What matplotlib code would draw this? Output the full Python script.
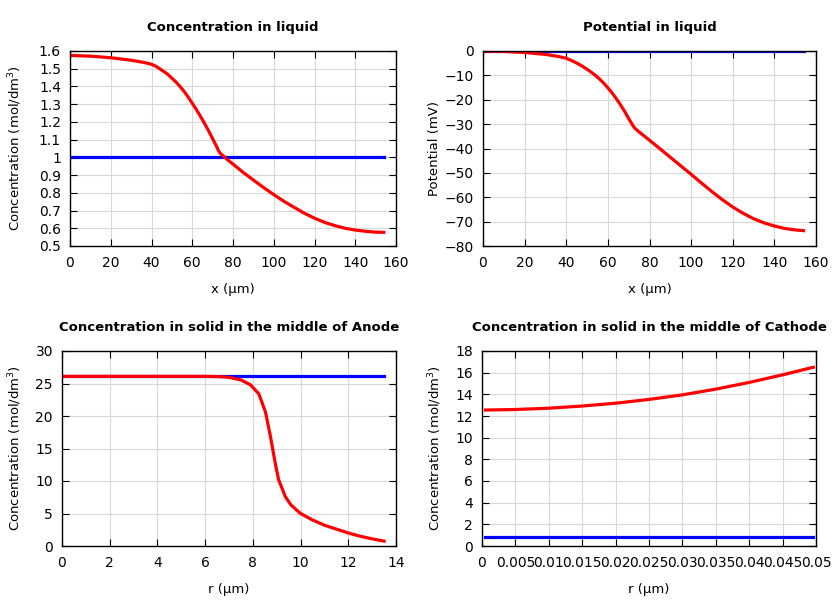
import numpy as np
import matplotlib.pyplot as plt
from matplotlib.ticker import FuncFormatter

# concentration in liquid
x_liq = [0, 10, 20, 30, 36, 38, 40, 42, 44, 46, 48, 50, 52, 54, 56, 58, 60, 62, 64, 66, 68, 70, 72, 73, 74, 76, 78, 80,
	85, 90, 95, 100, 105, 110, 115, 120, 125, 130, 135, 140, 145, 150, 154]
c_liq = [1.575, 1.571, 1.562, 1.548, 1.536, 1.531, 1.525, 1.515, 1.50, 1.485, 1.468, 1.447, 1.425, 1.40, 1.372, 1.34, 1.305, 1.27, 1.232, 1.192, 1.15, 1.105, 1.06, 1.035, 1.02, 1.0, 0.98, 0.962,
	0.915, 0.872, 0.83, 0.79, 0.752, 0.718, 0.685, 0.657, 0.633, 0.615, 0.60, 0.59, 0.583, 0.578, 0.577]
x_liq0 = [0, 154]
c_liq0 = [1.0, 1.0]

# potential in liquid
x_phi = [0, 10, 20, 30, 36, 40, 42, 44, 46, 48, 50, 52, 54, 56, 58, 60, 62, 64, 66, 68, 70, 72, 73, 75, 80,
	85, 90, 95, 100, 105, 110, 115, 120, 125, 130, 135, 140, 145, 150, 154]
phi_liq = [0, -0.2, -0.6, -1.4, -2.2, -3.0, -3.7, -4.5, -5.4, -6.4, -7.5, -8.7, -10.0, -11.5, -13.2, -15.1, -17.2, -19.5, -22.0, -24.7, -27.7, -30.6, -31.7, -33.2, -36.6,
	-40.1, -43.6, -47.1, -50.6, -54.2, -57.7, -61.0, -64.0, -66.6, -68.8, -70.5, -71.8, -72.8, -73.4, -73.7]
phi_liq0 = [0, 0]

# solid, anode
r_an = [0.1, 2, 4, 6, 6.6, 7.0, 7.5, 7.9, 8.25, 8.53, 8.74, 8.95, 9.08, 9.36, 9.6, 10.0, 10.5, 11.0, 11.5, 12.0, 12.5, 13.0, 13.5]
c_an = [26.1, 26.1, 26.1, 26.1, 26.05, 25.95, 25.55, 24.8, 23.4, 20.6, 16.8, 12.5, 10.2, 7.6, 6.3, 5.0, 4.0, 3.2, 2.6, 2.0, 1.5, 1.1, 0.75]
r_an0 = [0.1, 13.5]
c_an0 = [26.1, 26.1]

# solid, cathode
r_ca = [0.0005, 0.005, 0.01, 0.015, 0.02, 0.025, 0.03, 0.035, 0.04, 0.045, 0.0496]
c_ca = [12.55, 12.6, 12.72, 12.92, 13.18, 13.53, 13.95, 14.48, 15.1, 15.8, 16.5]
r_ca0 = [0.0005, 0.0496]
c_ca0 = [0.8, 0.8]

plt.rcParams['font.family'] = 'DejaVu Sans'
plt.rcParams['font.size'] = 9.5

fig = plt.figure(figsize=(8.4, 6), dpi=100)

def style(ax, title, xlabel, ylabel, ylx):
	ax.set_title(title, fontweight='bold', fontsize=9.5, pad=14.5)
	ax.set_xlabel(xlabel, labelpad=9.5)
	ax.set_ylabel(ylabel)
	ax.yaxis.set_label_coords(ylx, 0.5)
	ax.grid(True, color='#d8d8d8', linewidth=0.8)
	ax.set_axisbelow(True)
	ax.tick_params(direction='in', top=True, right=True, length=5, labelsize=10)
	ax.tick_params(axis='x', pad=7)
	ax.tick_params(axis='y', pad=6.5)
	for s in ax.spines.values():
		s.set_linewidth(1.0)

ylab_c = 'Concentration (mol/dm$^3$)'
g = FuncFormatter(lambda v, p: '%g' % round(v, 6))

# top left
ax = fig.add_axes([70/840, 1-246/600, 326/840, 195/600])
ax.plot(x_liq0, c_liq0, color='blue', lw=2.3)
ax.plot(x_liq, c_liq, color='red', lw=2.3)
ax.set_xlim(0, 160)
ax.set_ylim(0.5, 1.6)
ax.set_xticks(np.arange(0, 161, 20))
ax.set_yticks(np.arange(0.5, 1.61, 0.1))
ax.yaxis.set_major_formatter(g)
style(ax, 'Concentration in liquid', 'x (µm)', ylab_c, -0.141)

# top right
ax = fig.add_axes([483/840, 1-246/600, 333/840, 195/600])
ax.plot(x_liq0, phi_liq0, color='blue', lw=2.3)
ax.plot(x_phi, phi_liq, color='red', lw=2.3)
ax.set_xlim(0, 160)
ax.set_ylim(-80, 0)
ax.set_xticks(np.arange(0, 161, 20))
ax.set_yticks(np.arange(-80, 1, 10))
style(ax, 'Potential in liquid', 'x (µm)', 'Potential (mV)', -0.126)

# bottom left
ax = fig.add_axes([62/840, 1-546/600, 334/840, 195/600])
ax.plot(r_an0, c_an0, color='blue', lw=2.3)
ax.plot(r_an, c_an, color='red', lw=2.3)
ax.set_xlim(0, 14)
ax.set_ylim(0, 30)
ax.set_xticks(np.arange(0, 15, 2))
ax.set_yticks(np.arange(0, 31, 5))
style(ax, 'Concentration in solid in the middle of Anode', 'r (µm)', ylab_c, -0.114)

# bottom right
ax = fig.add_axes([482/840, 1-546/600, 334/840, 195/600])
ax.plot(r_ca0, c_ca0, color='blue', lw=2.3)
ax.plot(r_ca, c_ca, color='red', lw=2.3)
ax.set_xlim(0, 0.05)
ax.set_ylim(0, 18)
ax.set_xticks(np.arange(0, 0.0501, 0.005))
ax.set_yticks(np.arange(0, 19, 2))
ax.xaxis.set_major_formatter(g)
style(ax, 'Concentration in solid in the middle of Cathode', 'r (µm)', ylab_c, -0.114)

fig.savefig('out.png', dpi=100)
